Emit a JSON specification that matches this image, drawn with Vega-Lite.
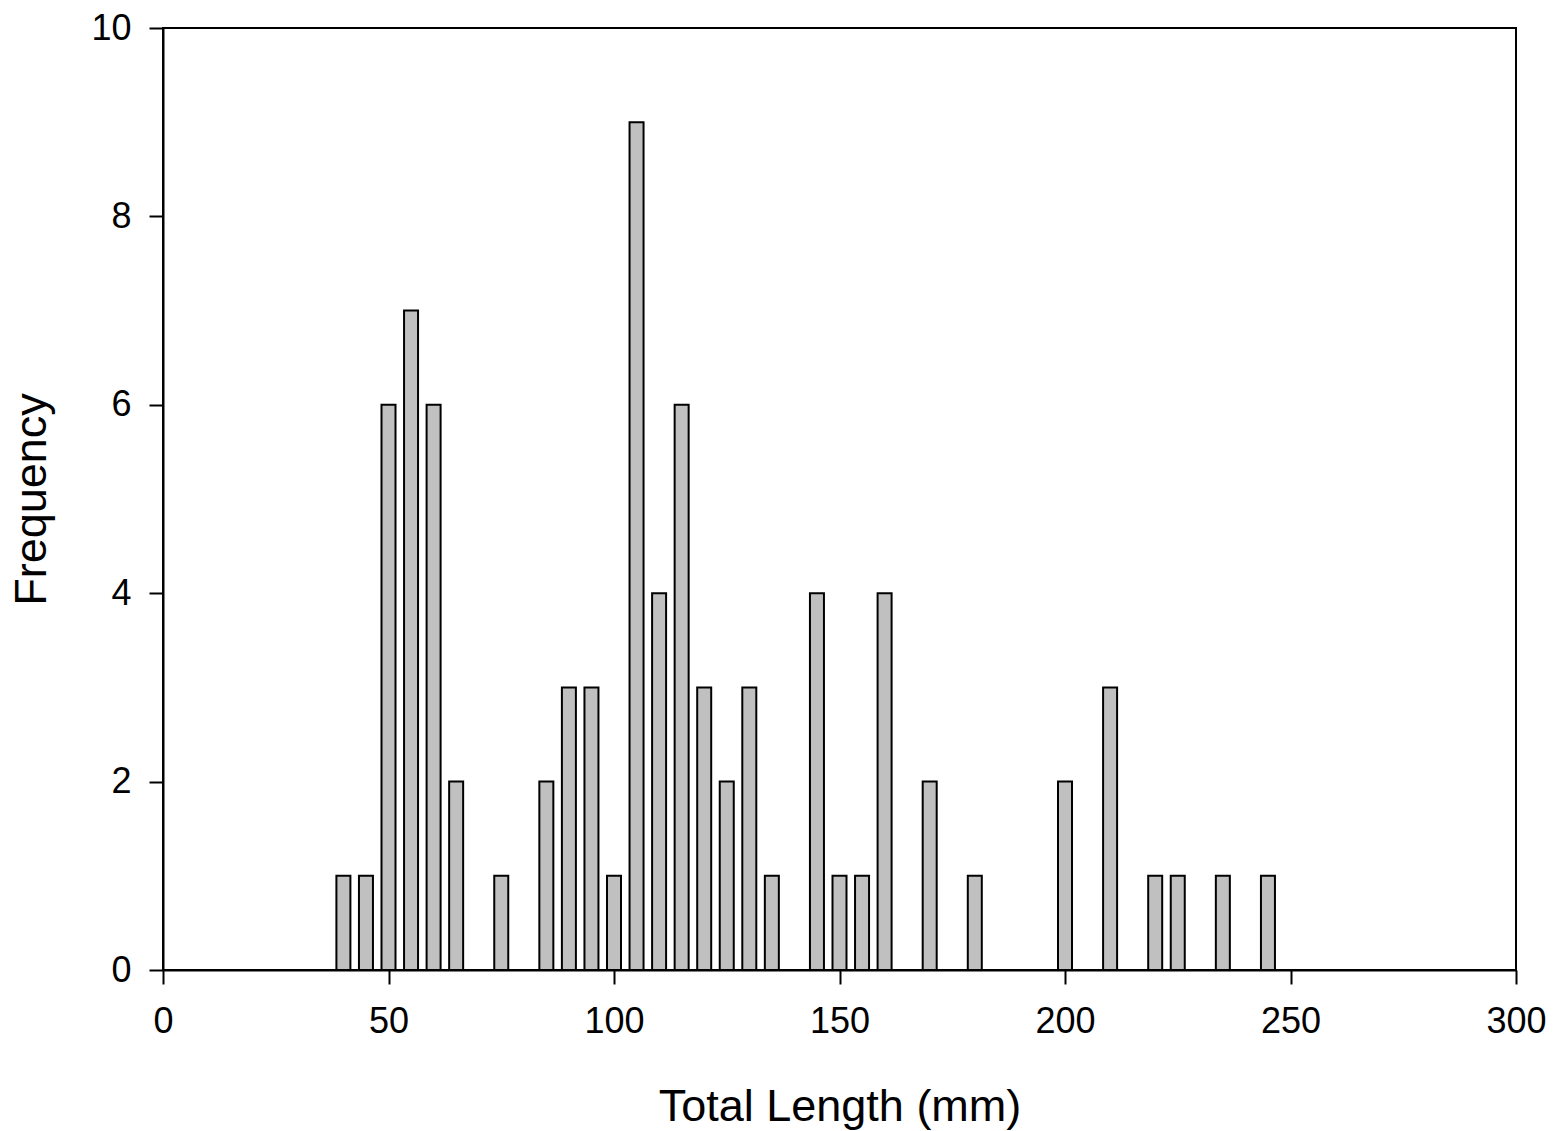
{
  "$schema": "https://vega.github.io/schema/vega-lite/v6.json",
  "autosize": "none",
  "width": 1353,
  "height": 942,
  "padding": {"left": 163, "top": 28, "right": 38, "bottom": 161},
  "background": "white",
  "config": {
    "view": {"stroke": "black", "strokeWidth": 2},
    "axis": {
      "grid": false,
      "domainColor": "black",
      "domainWidth": 2,
      "tickColor": "black",
      "tickWidth": 2,
      "tickSize": 14,
      "labelFlush": false,
      "labelOverlap": false,
      "labelFont": "Liberation Sans",
      "labelFontSize": 36,
      "labelColor": "black",
      "titleFont": "Liberation Sans",
      "titleFontSize": 45,
      "titleFontWeight": "normal",
      "titleColor": "black"
    }
  },
  "data": {
    "values": [
      {"length": 40, "frequency": 1},
      {"length": 45, "frequency": 1},
      {"length": 50, "frequency": 6},
      {"length": 55, "frequency": 7},
      {"length": 60, "frequency": 6},
      {"length": 65, "frequency": 2},
      {"length": 75, "frequency": 1},
      {"length": 85, "frequency": 2},
      {"length": 90, "frequency": 3},
      {"length": 95, "frequency": 3},
      {"length": 100, "frequency": 1},
      {"length": 105, "frequency": 9},
      {"length": 110, "frequency": 4},
      {"length": 115, "frequency": 6},
      {"length": 120, "frequency": 3},
      {"length": 125, "frequency": 2},
      {"length": 130, "frequency": 3},
      {"length": 135, "frequency": 1},
      {"length": 145, "frequency": 4},
      {"length": 150, "frequency": 1},
      {"length": 155, "frequency": 1},
      {"length": 160, "frequency": 4},
      {"length": 170, "frequency": 2},
      {"length": 180, "frequency": 1},
      {"length": 200, "frequency": 2},
      {"length": 210, "frequency": 3},
      {"length": 220, "frequency": 1},
      {"length": 225, "frequency": 1},
      {"length": 235, "frequency": 1},
      {"length": 245, "frequency": 1}
    ]
  },
  "mark": {"type": "bar", "size": 14, "fill": "#c0c0c0", "stroke": "black", "strokeWidth": 2},
  "encoding": {
    "x": {
      "field": "length",
      "type": "quantitative",
      "scale": {"domain": [0, 300], "nice": false, "zero": true, "padding": 0},
      "axis": {
        "title": "Total Length (mm)",
        "values": [0, 50, 100, 150, 200, 250, 300],
        "labelPadding": 20,
        "titleY": 150,
        "titleBaseline": "alphabetic"
      }
    },
    "y": {
      "field": "frequency",
      "type": "quantitative",
      "scale": {"domain": [0, 10], "nice": false},
      "axis": {
        "title": "Frequency",
        "values": [0, 2, 4, 6, 8, 10],
        "labelPadding": 18,
        "titleX": -118,
        "titleBaseline": "alphabetic"
      }
    }
  }
}
